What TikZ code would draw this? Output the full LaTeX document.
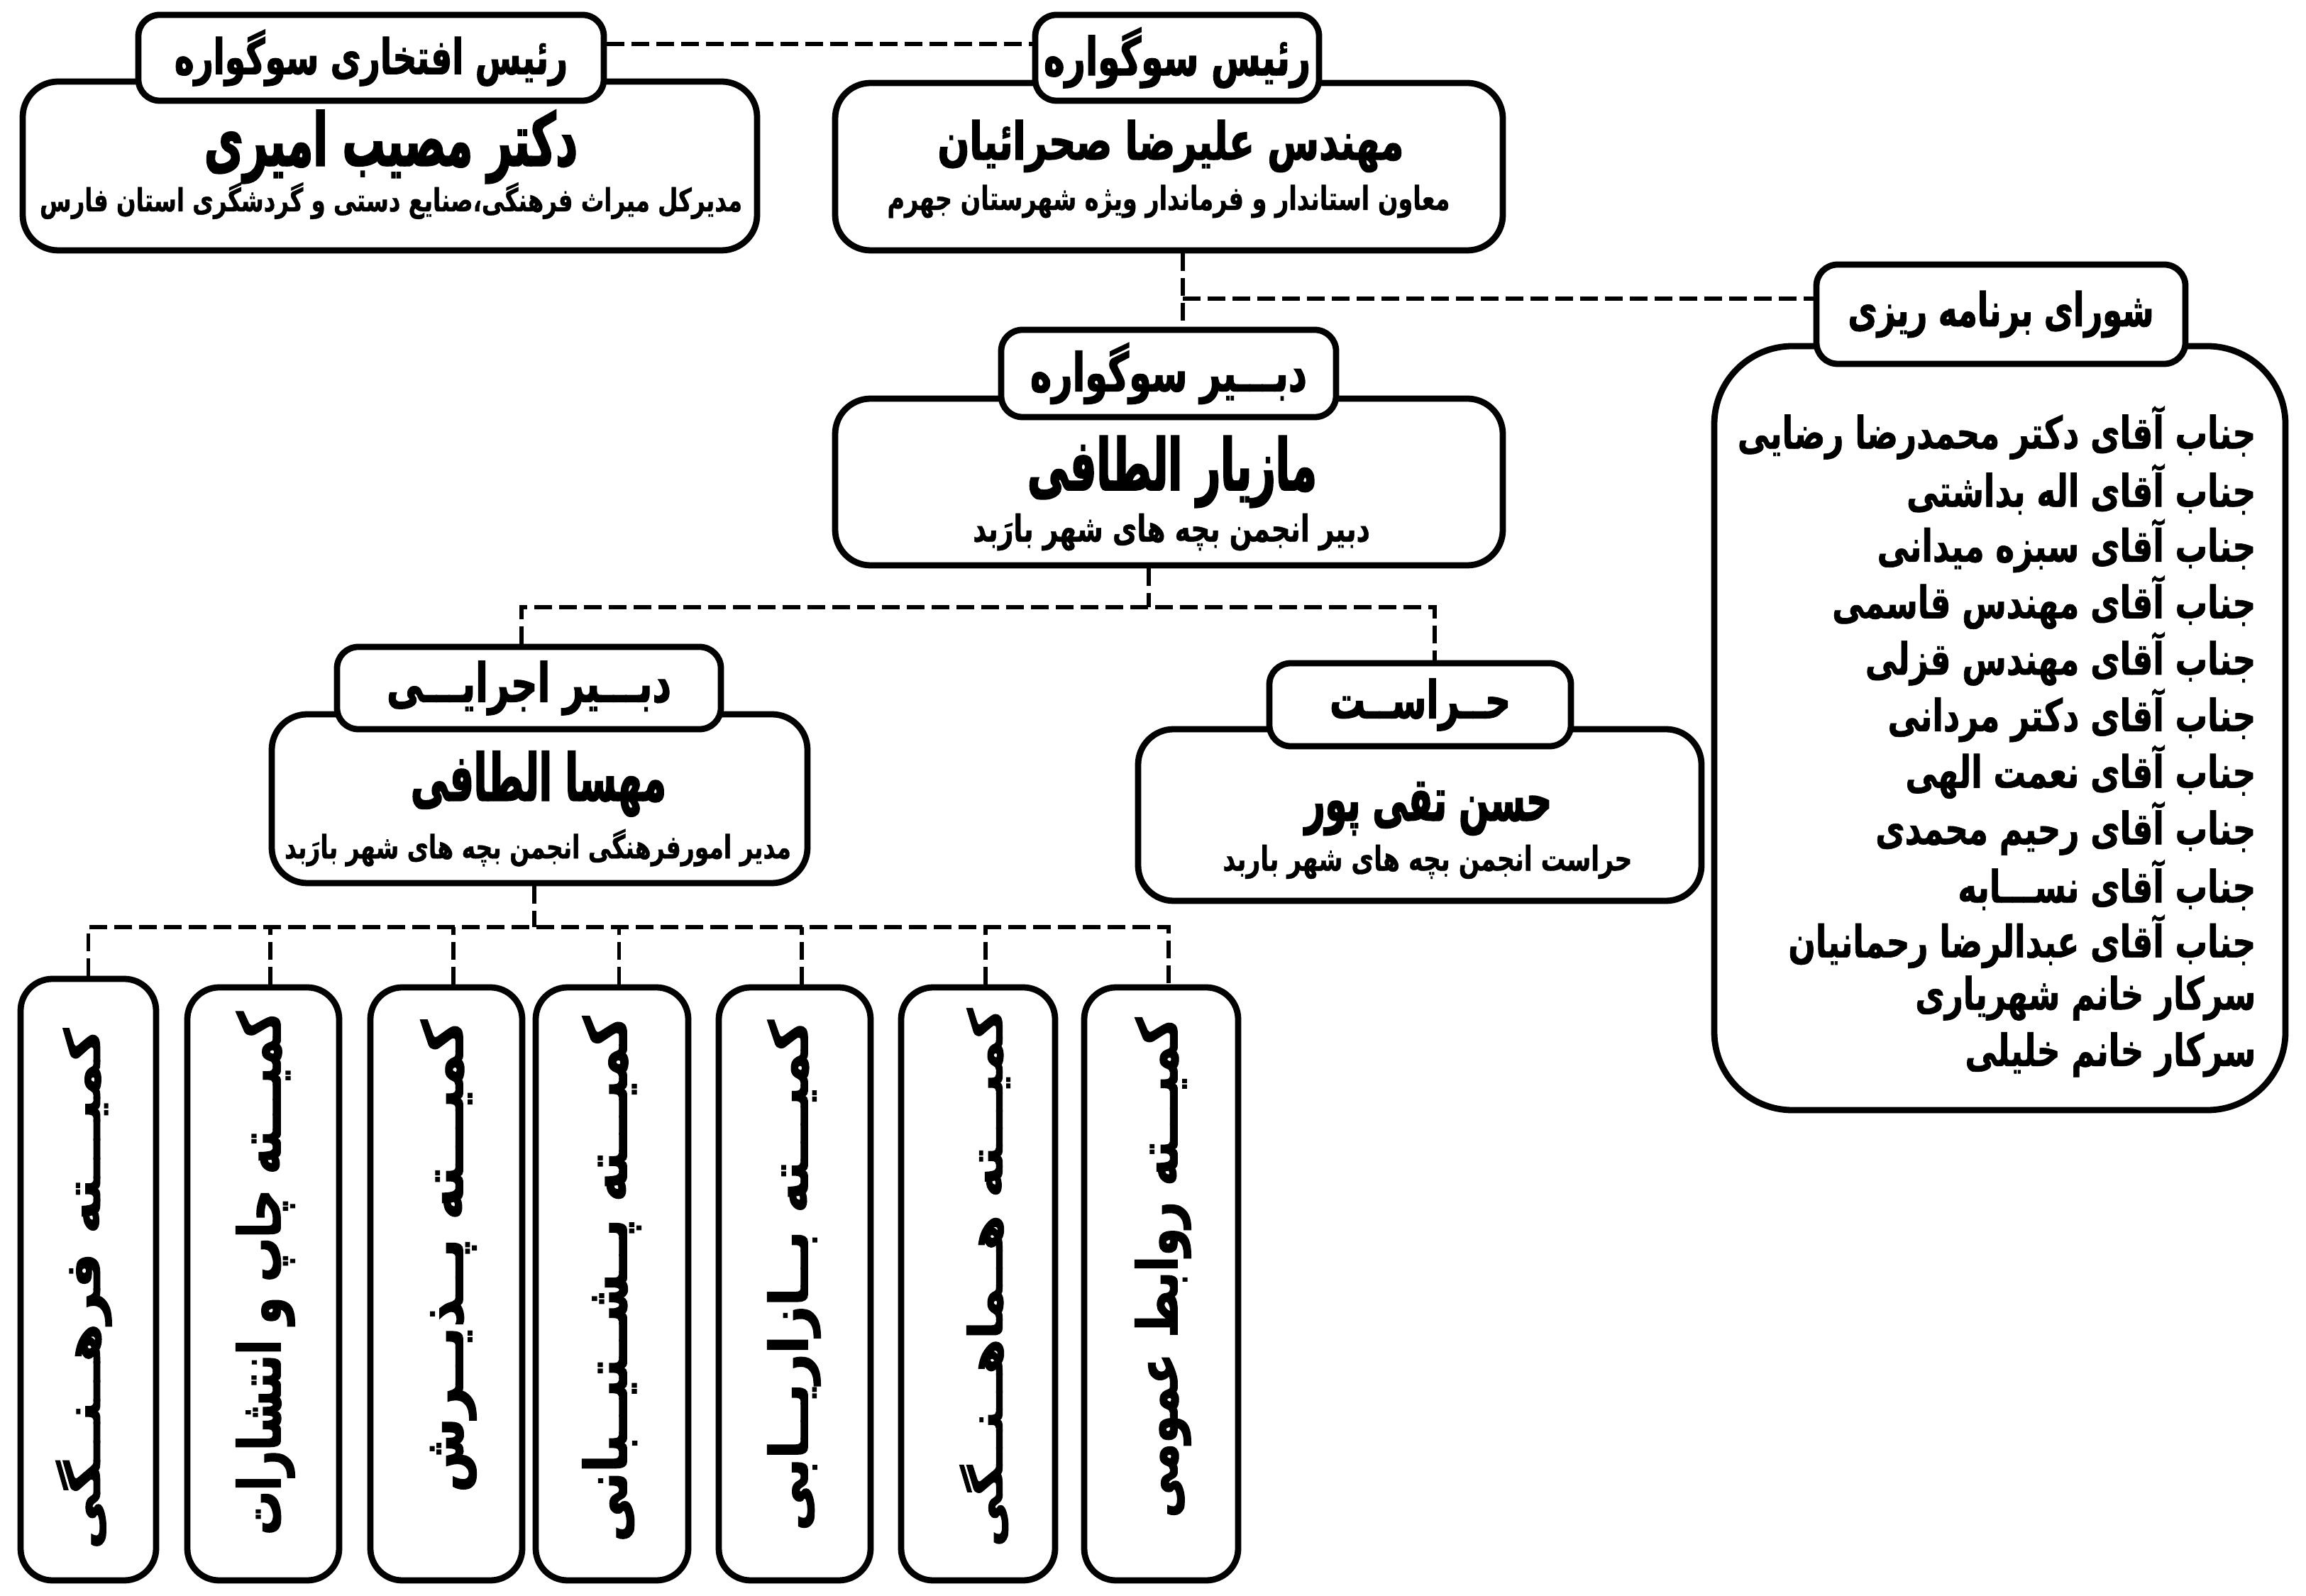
\documentclass[tikz,border=0pt]{standalone}
\usepackage{fontspec}
\TeXXeTstate=1
\newfontfamily\fab[Script=Arabic,FakeStretch=0.72,FakeBold=0.8]{DejaVu Sans Bold}
\newfontfamily\fabt[Script=Arabic,FakeStretch=0.68,FakeBold=1.5]{DejaVu Sans Bold}
\newfontfamily\fabn[Script=Arabic,FakeStretch=0.58,FakeBold=2]{DejaVu Sans Bold}
\newfontfamily\fabm[Script=Arabic,FakeStretch=0.72,FakeBold=2]{DejaVu Sans Bold}
\newfontfamily\fabk[Script=Arabic,FakeStretch=0.68,FakeBold=1.5]{DejaVu Sans Bold}
\newfontfamily\fabl[Script=Arabic,FakeStretch=0.72,FakeBold=1]{DejaVu Sans Bold}
\newcommand{\fitw}[2]{\resizebox{#1}{!}{#2}}
\newcommand{\ctext}[3]{\rotatebox{90}{\resizebox*{#1}{#2}{\fabk #3}}}
\usetikzlibrary{calc}
\tikzset{
  mainbox/.style={draw=black, line width=2.5pt, rounded corners=0.5cm, fill=white, inner sep=0pt},
  ttl/.style={draw=black, line width=2.5pt, rounded corners=0.3cm, fill=white, inner sep=0pt, font=\fontsize{20}{24}\selectfont},
  cbox/.style={draw=black, line width=2.5pt, rounded corners=0.45cm, fill=white, inner sep=0pt},
  txt/.style={inner sep=0pt, font=\fontsize{20}{24}\selectfont},
  lst/.style={font=\fontsize{17.9}{20}\selectfont, inner sep=0pt, anchor=east},
  dl/.style={draw=black, line width=1.7pt, dash pattern=on 0.25cm off 0.1cm}
}
\begin{document}
\begin{tikzpicture}
\fill[white] (0,0) rectangle (32.5,-22.5);
\useasboundingbox (0,0) rectangle (32.5,-22.5);

% main boxes
\node[mainbox, minimum width=10.35cm, minimum height=2.38cm] (mA) at (5.495,-2.34) {};
\node[mainbox, minimum width=9.41cm, minimum height=2.36cm] (mB) at (16.475,-2.35) {};
\node[mainbox, minimum width=9.41cm, minimum height=2.35cm] (mC) at (16.475,-6.795) {};
\node[mainbox, rounded corners=1.1cm, minimum width=8.05cm, minimum height=10.77cm] (mD) at (28.185,-10.265) {};
\node[mainbox, minimum width=7.55cm, minimum height=2.38cm] (mE) at (7.605,-11.26) {};
\node[mainbox, minimum width=7.94cm, minimum height=2.42cm] (mF) at (20.01,-11.49) {};

% title boxes
\node[ttl, minimum width=6.56cm, minimum height=1.21cm] (tA) at (5.23,-0.815) {\fitw{5.54cm}{\fabt\beginR رئیس افتخاری سوگواره\endR}};
\node[ttl, minimum width=4.0cm, minimum height=1.21cm] (tB) at (16.59,-0.815) {\fitw{3.76cm}{\fabt\beginR رئیس سوگواره\endR}};
\node[ttl, minimum width=4.72cm, minimum height=1.23cm] (tC) at (16.47,-5.265) {\fitw{3.90cm}{\fabt\beginR دبـــیر سوگواره\endR}};
\node[ttl, minimum width=5.2cm, minimum height=1.40cm] (tD) at (28.20,-4.43) {\fitw{4.31cm}{\fabt\beginR شورای برنامه ریزی\endR}};
\node[ttl, minimum width=5.41cm, minimum height=1.16cm] (tE) at (7.455,-9.70) {\fitw{4.01cm}{\fabt\beginR دبـــیر اجرایـــی\endR}};
\node[ttl, minimum width=4.25cm, minimum height=1.17cm] (tF) at (20.015,-9.935) {\fitw{2.55cm}{\fabt\beginR حــراســت\endR}};

% names and subtitles
\node[txt] (nA) at (5.51,-2.07) {\fitw{5.26cm}{\fabn\beginR دکتر مصیب امیری\endR}};
\node[txt] (sA) at (5.51,-2.83) {\fitw{9.90cm}{\fab\beginR مدیرکل میراث فرهنگی،صنایع دستی و گردشگری استان فارس\endR}};
\node[txt] (nB) at (16.50,-2.06) {\fitw{6.57cm}{\fabm\beginR مهندس علیرضا صحرائیان\endR}};
\node[txt] (sB) at (16.47,-2.84) {\fitw{7.93cm}{\fab\beginR معاون استاندار و فرماندار ویژه شهرستان جهرم\endR}};
\node[txt] (nC) at (16.52,-6.65) {\fitw{4.08cm}{\fabn\beginR مازیار الطافی\endR}};
\node[txt] (sC) at (16.51,-7.50) {\fitw{5.60cm}{\fab\beginR دبیر انجمن بچه های شهر بارَبد\endR}};
\node[txt] (nE) at (7.59,-11.05) {\fitw{3.60cm}{\fabn\beginR مهسا الطافی\endR}};
\node[txt] (sE) at (7.58,-11.95) {\fitw{7.14cm}{\fab\beginR مدیر امورفرهنگی انجمن بچه های شهر بارَبد\endR}};
\node[txt] (nF) at (20.13,-11.40) {\fitw{3.48cm}{\fabn\beginR حسن تقی پور\endR}};
\node[txt] (sF) at (20.12,-12.15) {\fitw{5.77cm}{\fab\beginR حراست انجمن بچه های شهر باربد\endR}};

% council list
\foreach \t [count=\i] in {
 \beginR جناب آقای دکتر محمدرضا رضایی\endR,
 \beginR جناب آقای اله بداشتی\endR,
 \beginR جناب آقای سبزه میدانی\endR,
 \beginR جناب آقای مهندس قاسمی\endR,
 \beginR جناب آقای مهندس قزلی\endR,
 \beginR جناب آقای دکتر مردانی\endR,
 \beginR جناب آقای نعمت الهی\endR,
 \beginR جناب آقای رحیم محمدی\endR,
 \beginR جناب آقای نســـابه\endR,
 \beginR جناب آقای عبدالرضا رحمانیان\endR,
 \beginR سرکار خانم شهریاری\endR,
 \beginR سرکار خانم خلیلی\endR}
 {\node[lst] (l\i) at (31.80,{-6.10-(\i-1)*0.797}) {\fabl\t};}

% committee boxes
\node[cbox, minimum width=1.91cm, minimum height=8.48cm] (c1) at (1.245,-18.04) {};
\node[cbox, minimum width=2.14cm, minimum height=8.36cm] (c2) at (3.71,-18.10) {};
\node[cbox, minimum width=2.14cm, minimum height=8.36cm] (c3) at (6.29,-18.10) {};
\node[cbox, minimum width=2.15cm, minimum height=8.36cm] (c4) at (8.625,-18.10) {};
\node[cbox, minimum width=2.14cm, minimum height=8.36cm] (c5) at (11.20,-18.10) {};
\node[cbox, minimum width=2.17cm, minimum height=8.36cm] (c6) at (13.785,-18.10) {};
\node[cbox, minimum width=2.17cm, minimum height=8.36cm] (c7) at (16.365,-18.10) {};

% committee texts
\node[txt] (k1) at (1.18,-18.17) {\ctext{7.34cm}{0.79cm}{\beginR کمیـــته فرهــنــگی\endR}};
\node[txt] (k2) at (3.74,-17.95) {\ctext{7.38cm}{0.83cm}{\beginR کمیـــته چاپ و انتشارات\endR}};
\node[txt] (k3) at (6.32,-17.71) {\ctext{6.66cm}{0.79cm}{\beginR کمیـــته پــذیــرش\endR}};
\node[txt] (k4) at (8.62,-18.03) {\ctext{7.41cm}{0.83cm}{\beginR کمیـــته پــشــتیــبانی\endR}};
\node[txt] (k5) at (11.19,-17.98) {\ctext{7.20cm}{0.75cm}{\beginR کمیـــته بــازاریــابی\endR}};
\node[txt] (k6) at (13.88,-18.01) {\ctext{7.59cm}{0.71cm}{\beginR کمیـــته هــماهــنــگی\endR}};
\node[txt] (k7) at (16.39,-17.87) {\ctext{7.05cm}{0.79cm}{\beginR کمیـــته روابط عمومی\endR}};

% connectors
\draw[dl] ([yshift=0.195cm]tA.east) -- ([yshift=0.195cm]tB.west);
\coordinate (j1) at (16.67,-4.21);
\draw[dl] (mB.south -| j1) -- (tC.north -| j1);
\draw[dl] (j1) -- (j1 -| tD.west);
\coordinate (j2) at (16.19,-8.56);
\draw[dl] (mC.south -| j2) -- (j2);
\coordinate (e2) at (7.35,-8.56);
\coordinate (f2) at (20.22,-8.56);
\draw[dl] (tE.north -| e2) -- (e2) -- (f2) -- (tF.north -| f2);
\coordinate (j3) at (7.53,-13.07);
\draw[dl] (mE.south -| j3) -- (j3);
\draw[dl] (c1.north) -- (c1.north |- j3) -- ([xshift=0.1cm]c7.north |- j3) -- ([xshift=0.1cm]c7.north);
\foreach \k in {2,...,6} {\draw[dl] ([xshift=0.1cm]c\k.north) -- ([xshift=0.1cm]c\k.north |- j3);}
\end{tikzpicture}
\end{document}
